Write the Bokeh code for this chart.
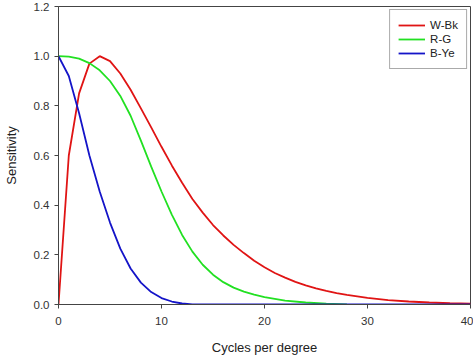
from bokeh.plotting import figure
from bokeh.models import FixedTicker, PrintfTickFormatter, Legend, LegendItem, Range1d
from bokeh.embed import file_html
from bokeh.resources import INLINE

# W-Bk (luminance) contrast sensitivity
wbk_x = [0, 1, 2, 3, 4, 5, 6, 7, 8, 9, 10, 11, 12, 13, 14, 15, 16, 17, 18, 19, 20,
         21, 22, 23, 24, 25, 26, 27, 28, 30, 32, 34, 36, 38, 40]
wbk_y = [0.0, 0.6, 0.85, 0.97, 1.0, 0.98, 0.93, 0.865, 0.79, 0.713, 0.635, 0.56, 0.49,
         0.425, 0.37, 0.32, 0.278, 0.24, 0.207, 0.176, 0.15,
         0.127, 0.108, 0.091, 0.077, 0.065, 0.055, 0.046, 0.039, 0.027, 0.018, 0.012,
         0.008, 0.005, 0.003]

# R-G chromatic sensitivity
rg_x = [0, 1, 2, 3, 4, 5, 6, 7, 8, 9, 10, 11, 12, 13, 14, 15, 16, 17, 18, 19, 20,
        22, 24, 26, 28]
rg_y = [1.0, 0.998, 0.99, 0.972, 0.943, 0.9, 0.84, 0.76, 0.66, 0.555, 0.455, 0.362,
        0.28, 0.213, 0.16, 0.12, 0.09, 0.068, 0.052, 0.04, 0.03,
        0.016, 0.008, 0.003, 0.0]

# B-Ye chromatic sensitivity
bye_x = [0, 1, 2, 3, 4, 5, 6, 7, 8, 9, 10, 11, 12, 13, 20, 30, 40]
bye_y = [1.0, 0.92, 0.77, 0.6, 0.455, 0.33, 0.225, 0.145, 0.088, 0.05, 0.026, 0.012,
         0.004, 0.0, 0.0, 0.0, 0.0]

x_ticks = [0, 10, 20, 30, 40]
y_ticks = [0.0, 0.2, 0.4, 0.6, 0.8, 1.0, 1.2]

FONT = "Liberation Sans"

p = figure(width=473, height=360, output_backend="svg", toolbar_location=None,
           x_range=Range1d(0, 40), y_range=Range1d(0, 1.2),
           min_border_left=57, min_border_right=3, min_border_top=6, min_border_bottom=56)

p.xgrid.visible = False
p.ygrid.visible = False
p.outline_line_color = "#444444"
p.outline_line_width = 1
p.background_fill_color = "white"

r1 = p.line(wbk_x, wbk_y, line_color="#e01414", line_width=1.8)
r2 = p.line(rg_x, rg_y, line_color="#22e022", line_width=1.8)
r3 = p.line(bye_x, bye_y, line_color="#1414c8", line_width=1.8)

for ax in (p.xaxis[0], p.yaxis[0]):
    ax.axis_line_color = "#444444"
    ax.major_tick_line_color = "#444444"
    ax.major_tick_out = 4
    ax.major_tick_in = 0
    ax.minor_tick_line_color = None
    ax.major_label_text_font = FONT
    ax.major_label_text_font_size = "11.5px"
    ax.major_label_text_color = "#333333"
    ax.axis_label_text_font = FONT
    ax.axis_label_text_font_size = "13px"
    ax.axis_label_text_font_style = "normal"
    ax.axis_label_text_color = "#222222"

p.xaxis.ticker = FixedTicker(ticks=x_ticks)
p.yaxis.ticker = FixedTicker(ticks=y_ticks)
p.yaxis.formatter = PrintfTickFormatter(format="%.1f")
p.xaxis.axis_label = "Cycles per degree"
p.yaxis.axis_label = "Sensitivity"
p.xaxis.major_label_standoff = 8
p.xaxis.axis_label_standoff = 12
p.yaxis.major_label_standoff = 5
p.yaxis.axis_label_standoff = 12

legend = Legend(items=[LegendItem(label="W-Bk", renderers=[r1]),
                       LegendItem(label="R-G", renderers=[r2]),
                       LegendItem(label="B-Ye", renderers=[r3])],
                location="top_right")
legend.margin = 3
legend.padding = 8
legend.spacing = 0
legend.glyph_width = 27
legend.glyph_height = 14
legend.label_height = 14
legend.label_standoff = 5
legend.label_text_font = FONT
legend.label_text_font_size = "11.5px"
legend.label_text_color = "#222222"
legend.border_line_color = "#555555"
legend.border_line_width = 1
legend.background_fill_color = "white"
legend.background_fill_alpha = 1.0
p.add_layout(legend)

open("out.html", "w").write(file_html(p, INLINE))
